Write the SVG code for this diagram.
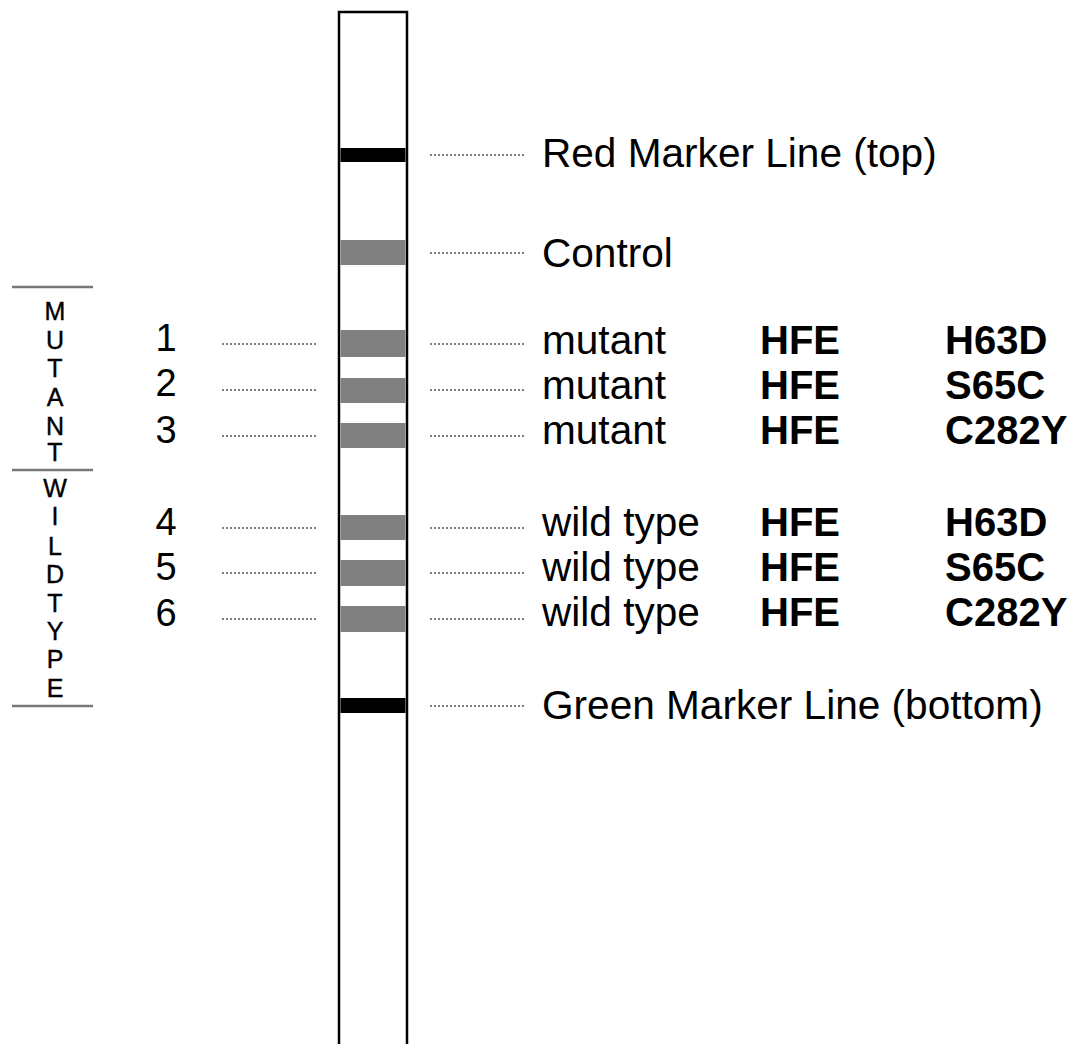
<svg xmlns="http://www.w3.org/2000/svg" width="1073" height="1044" viewBox="0 0 1073 1044">
<style>
.lbl{font-family:"Liberation Sans",Arial,sans-serif;font-size:40.6px;fill:#000}
.b{font-weight:bold;font-size:40px}
.num{font-family:"Liberation Sans",Arial,sans-serif;font-size:38px;fill:#000;text-anchor:middle}
.v{font-family:"Liberation Sans",Arial,sans-serif;font-size:25px;fill:#000;text-anchor:middle;stroke:#000;stroke-width:0.4}
.dot{stroke:#555;stroke-width:1.6;stroke-dasharray:2 2;fill:none}
.sep{stroke:#777;stroke-width:2.5}
.blk{fill:#000}
.gry{fill:#808080}
</style>
<rect width="1073" height="1044" fill="#fff"/>
<g id="strip">
<rect x="339" y="12" width="68" height="1050" fill="#fff" stroke="#000" stroke-width="2.5"/>
<rect class="blk" x="340.5" y="148" width="65" height="14"/>
<rect class="gry" x="340.5" y="240" width="65" height="25"/>
<rect class="gry" x="340.5" y="330" width="65" height="27"/>
<rect class="gry" x="340.5" y="378" width="65" height="25"/>
<rect class="gry" x="340.5" y="423" width="65" height="25"/>
<rect class="gry" x="340.5" y="515" width="65" height="25"/>
<rect class="gry" x="340.5" y="560" width="65" height="26"/>
<rect class="gry" x="340.5" y="606" width="65" height="26"/>
<rect class="blk" x="340.5" y="698" width="65" height="15"/>
</g>
<g id="connectors">
<line class="dot" x1="430" y1="155" x2="525" y2="155"/>
<line class="dot" x1="430" y1="253" x2="525" y2="253"/>
<line class="dot" x1="430" y1="344" x2="525" y2="344"/>
<line class="dot" x1="430" y1="390" x2="525" y2="390"/>
<line class="dot" x1="430" y1="436" x2="525" y2="436"/>
<line class="dot" x1="430" y1="528" x2="525" y2="528"/>
<line class="dot" x1="430" y1="573" x2="525" y2="573"/>
<line class="dot" x1="430" y1="619" x2="525" y2="619"/>
<line class="dot" x1="430" y1="706" x2="525" y2="706"/>
<line class="dot" x1="222" y1="344" x2="318" y2="344"/>
<line class="dot" x1="222" y1="390" x2="318" y2="390"/>
<line class="dot" x1="222" y1="436" x2="318" y2="436"/>
<line class="dot" x1="222" y1="528" x2="318" y2="528"/>
<line class="dot" x1="222" y1="573" x2="318" y2="573"/>
<line class="dot" x1="222" y1="619" x2="318" y2="619"/>
</g>
<g id="labels">
<text class="lbl" x="542" y="167">Red Marker Line (top)</text>
<text class="lbl" x="542" y="267">Control</text>
<text class="lbl" x="542" y="354">mutant</text>
<text class="lbl" x="542" y="399">mutant</text>
<text class="lbl" x="542" y="444">mutant</text>
<text class="lbl" x="542" y="536">wild type</text>
<text class="lbl" x="542" y="581">wild type</text>
<text class="lbl" x="542" y="626">wild type</text>
<text class="lbl" x="542" y="719">Green Marker Line (bottom)</text>
<text class="lbl b" x="760" y="354">HFE</text>
<text class="lbl b" x="760" y="399">HFE</text>
<text class="lbl b" x="760" y="444">HFE</text>
<text class="lbl b" x="760" y="536">HFE</text>
<text class="lbl b" x="760" y="581">HFE</text>
<text class="lbl b" x="760" y="626">HFE</text>
<text class="lbl b" x="945" y="354">H63D</text>
<text class="lbl b" x="945" y="399">S65C</text>
<text class="lbl b" x="945" y="444">C282Y</text>
<text class="lbl b" x="945" y="536">H63D</text>
<text class="lbl b" x="945" y="581">S65C</text>
<text class="lbl b" x="945" y="626">C282Y</text>
</g>
<g id="numbers">
<text class="num" x="166" y="351">1</text>
<text class="num" x="166" y="396">2</text>
<text class="num" x="166" y="443">3</text>
<text class="num" x="166" y="535">4</text>
<text class="num" x="166" y="580">5</text>
<text class="num" x="166" y="626">6</text>
</g>
<g id="groups">
<line class="sep" x1="12" y1="287" x2="93" y2="287"/>
<line class="sep" x1="12" y1="470" x2="93" y2="470"/>
<line class="sep" x1="12" y1="706" x2="93" y2="706"/>
<text class="v" x="55" y="320">M</text>
<text class="v" x="55" y="349">U</text>
<text class="v" x="55" y="377">T</text>
<text class="v" x="55" y="406">A</text>
<text class="v" x="55" y="435">N</text>
<text class="v" x="55" y="461">T</text>
<text class="v" x="55" y="497">W</text>
<text class="v" x="55" y="525">I</text>
<text class="v" x="55" y="555">L</text>
<text class="v" x="55" y="583">D</text>
<text class="v" x="55" y="612">T</text>
<text class="v" x="55" y="640">Y</text>
<text class="v" x="55" y="668">P</text>
<text class="v" x="55" y="697">E</text>
</g>
</svg>
